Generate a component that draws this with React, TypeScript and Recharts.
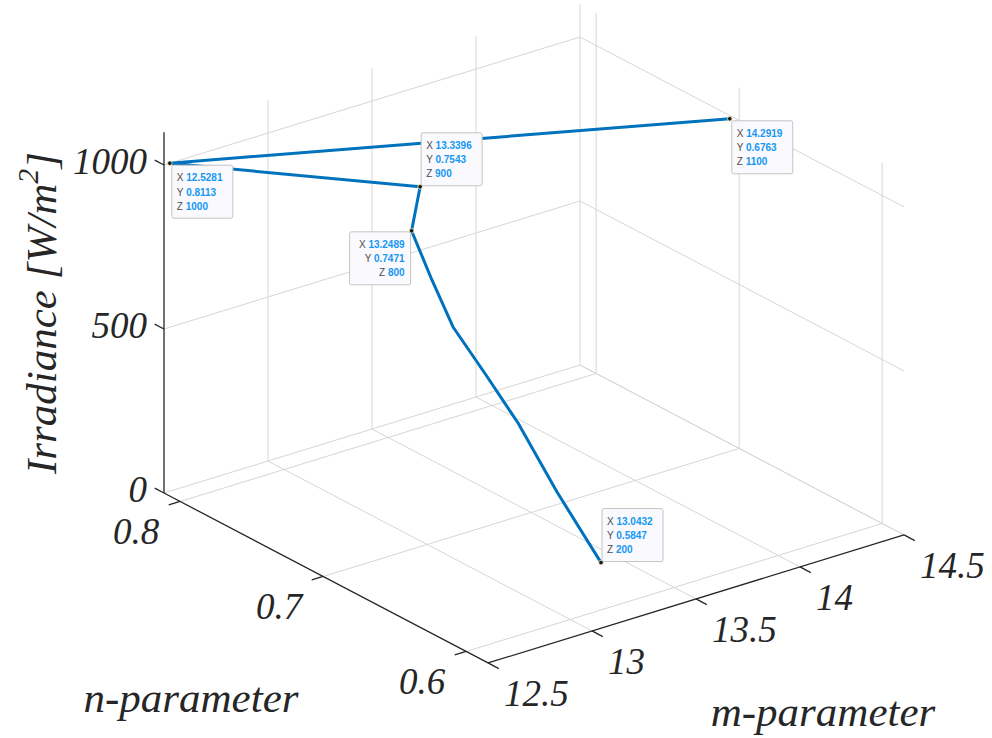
import { ComposedChart, XAxis, YAxis, Scatter, ReferenceLine } from 'recharts'

// irradiance levels and the fitted m / n parameters along the path
const IRRADIANCE = [1100, 1000, 900, 800, 700, 600, 500, 400, 300, 200]
const M_PARAM = [14.2919, 12.5281, 13.3396, 13.2489, 13.216, 13.198, 13.21, 13.219, 13.128, 13.0432]
const N_PARAM = [0.6763, 0.8113, 0.7543, 0.7471, 0.7281, 0.7107, 0.6894, 0.6683, 0.6278, 0.5847]

// data tips: index into the arrays above + where the box sits
const TIP_POINTS = [0, 1, 2, 3, 9]
const TIP_SIDES = ['br', 'br', 'tr', 'bl', 'tr']

const M_TICKS = [12.5, 13, 13.5, 14, 14.5]
const N_TICKS = [0.6, 0.7, 0.8]
const Z_TICKS = [0, 500, 1000]
const M_TICK_LABELS = ['12.5', '13', '13.5', '14', '14.5']
const N_TICK_LABELS = ['0.6', '0.7', '0.8']
const Z_TICK_LABELS = ['0', '500', '1000']

const M_LIM = [12.5, 14.5]
const N_LIM = [0.5847, 0.8113]
const Z_LIM = [0, 1100]

const W = 992
const H = 738

// orthographic camera (pixels per unit)
const view = { ox: 164, oy: 493, mx: 208, my: -64, nx: 1430, ny: 750, zy: -0.328 }

type P3 = [number, number, number]

const project = ([m, n, z]: P3) => ({
  x: view.ox + (m - M_LIM[0]) * view.mx + (N_LIM[1] - n) * view.nx,
  y: view.oy + (m - M_LIM[0]) * view.my + (N_LIM[1] - n) * view.ny + (z - Z_LIM[0]) * view.zy,
})

const seg = (a: P3, b: P3) => [project(a), project(b)]

const GRID = '#d6d6d6'
const INK = '#262626'
const BLUE = '#0072BD'
const SERIF = "'Liberation Serif', 'Times New Roman', serif"
const SANS = "'Liberation Sans', Arial, sans-serif"

// back walls + floor grid
const gridSegs: { x: number; y: number }[][] = []
Z_TICKS.forEach((z) => {
  gridSegs.push(seg([M_LIM[0], N_LIM[1], z], [M_LIM[1], N_LIM[1], z]))
  gridSegs.push(seg([M_LIM[1], N_LIM[1], z], [M_LIM[1], N_LIM[0], z]))
})
M_TICKS.slice(1).forEach((m) => {
  gridSegs.push(seg([m, N_LIM[1], Z_LIM[0]], [m, N_LIM[1], Z_LIM[1]]))
  gridSegs.push(seg([m, N_LIM[1], 0], [m, N_LIM[0], 0]))
})
N_TICKS.forEach((n) => {
  gridSegs.push(seg([M_LIM[1], n, Z_LIM[0]], [M_LIM[1], n, Z_LIM[1]]))
  gridSegs.push(seg([M_LIM[0], n, 0], [M_LIM[1], n, 0]))
})

// black axis lines + ticks
const axisSegs = [
  seg([M_LIM[0], N_LIM[1], Z_LIM[0]], [M_LIM[0], N_LIM[1], Z_LIM[1]]),
  seg([M_LIM[0], N_LIM[1], 0], [M_LIM[0], N_LIM[0], 0]),
  seg([M_LIM[0], N_LIM[0], 0], [M_LIM[1], N_LIM[0], 0]),
]
Z_TICKS.forEach((z) => axisSegs.push(seg([M_LIM[0], N_LIM[1], z], [M_LIM[0], N_LIM[1] + 0.0065, z])))
N_TICKS.forEach((n) => axisSegs.push(seg([M_LIM[0], n, 0], [M_LIM[0] - 0.055, n, 0])))
M_TICKS.forEach((m) => axisSegs.push(seg([m, N_LIM[0], 0], [m, N_LIM[0] - 0.0075, 0])))

const tickLabels = [
  ...Z_TICKS.map((z, i) => ({ ...project([M_LIM[0], N_LIM[1], z]), label: Z_TICK_LABELS[i], anchor: 'end', dx: -17, dy: -4 })),
  ...N_TICKS.map((n, i) => ({ ...project([M_LIM[0], n, 0]), label: N_TICK_LABELS[i], anchor: 'end', dx: -21, dy: 30 })),
  ...M_TICKS.map((m, i) => ({ ...project([m, N_LIM[0], 0]), label: M_TICK_LABELS[i], anchor: 'start', dx: 16, dy: 31 })),
]

const pathData = IRRADIANCE.map((z, i) => ({ ...project([M_PARAM[i], N_PARAM[i], z]), m: M_PARAM[i], n: N_PARAM[i], z }))
const tipData = TIP_POINTS.map((idx, i) => ({ ...pathData[idx], side: TIP_SIDES[i] }))

const TickText = (props: any) => {
  const { cx, cy, payload } = props
  return (
    <text x={cx + payload.dx} y={cy + payload.dy} textAnchor={payload.anchor} dominantBaseline="central"
      fontFamily={SERIF} fontStyle="italic" fontSize={37} fill={INK}>
      {payload.label}
    </text>
  )
}

const DataTip = (props: any) => {
  const { cx, cy, payload } = props
  const w = 61
  const h = 53
  let bx = cx + 2
  let by = cy + 2
  if (payload.side === 'tr') { bx = cx + 1; by = cy - h - 1 }
  if (payload.side === 'bl') { bx = cx - w - 1; by = cy + 1 }
  const right = payload.side === 'bl'
  const rows = [['X', payload.m.toFixed(4)], ['Y', payload.n.toFixed(4)], ['Z', String(payload.z)]]
  return (
    <g>
      <rect x={bx} y={by} width={w} height={h} rx={2} fill="#f9f9fe" stroke="#c4c4c4" strokeWidth={1} />
      {rows.map((r, i) => (
        <text key={r[0]} x={right ? bx + w - 6 : bx + 5} y={by + 12 + i * 14.3} textAnchor={right ? 'end' : 'start'}
          dominantBaseline="central" fontFamily={SANS} fontSize={10}>
          <tspan fill="#4d4d4d">{r[0]} </tspan>
          <tspan fill="#1597f2" fontWeight="bold">{r[1]}</tspan>
        </text>
      ))}
      <circle cx={cx} cy={cy} r={2.3} fill="#1a1a1a" stroke="#f3eec4" strokeWidth={0.8} />
    </g>
  )
}

export default function App() {
  return (
    <div style={{ position: 'absolute', left: 0, top: 0, width: W, height: H, background: '#fff' }}>
      <ComposedChart width={W} height={H} margin={{ top: 0, right: 0, bottom: 0, left: 0 }}>
        <XAxis type="number" dataKey="x" domain={[0, W]} hide allowDataOverflow />
        <YAxis type="number" dataKey="y" domain={[0, H]} reversed hide allowDataOverflow />
        {gridSegs.map((s, i) => (
          <ReferenceLine key={'g' + i} segment={s} stroke={GRID} strokeWidth={1} ifOverflow="visible" />
        ))}
        {axisSegs.map((s, i) => (
          <ReferenceLine key={'a' + i} segment={s} stroke={INK} strokeWidth={1.3} ifOverflow="visible" />
        ))}
        <Scatter data={tickLabels} shape={TickText} isAnimationActive={false} />
        <Scatter data={pathData} line={{ stroke: BLUE, strokeWidth: 3, strokeLinejoin: 'round' }}
          shape={() => <g />} isAnimationActive={false} />
        <Scatter data={tipData} shape={DataTip} isAnimationActive={false} />
      </ComposedChart>
      <svg width={W} height={H} style={{ position: 'absolute', left: 0, top: 0, pointerEvents: 'none' }}>
        <text transform="translate(56, 313) rotate(-90)" textAnchor="middle" fontFamily={SERIF}
          fontStyle="italic" fontSize={43} fill={INK}>
          Irradiance [W/m<tspan dy={-18} fontSize={30}>2</tspan><tspan dy={18}>]</tspan>
        </text>
        <text x={191} y={712} textAnchor="middle" fontFamily={SERIF} fontStyle="italic" fontSize={43} fill={INK}>
          n-parameter
        </text>
        <text x={823} y={726} textAnchor="middle" fontFamily={SERIF} fontStyle="italic" fontSize={43} fill={INK}>
          m-parameter
        </text>
      </svg>
    </div>
  )
}
